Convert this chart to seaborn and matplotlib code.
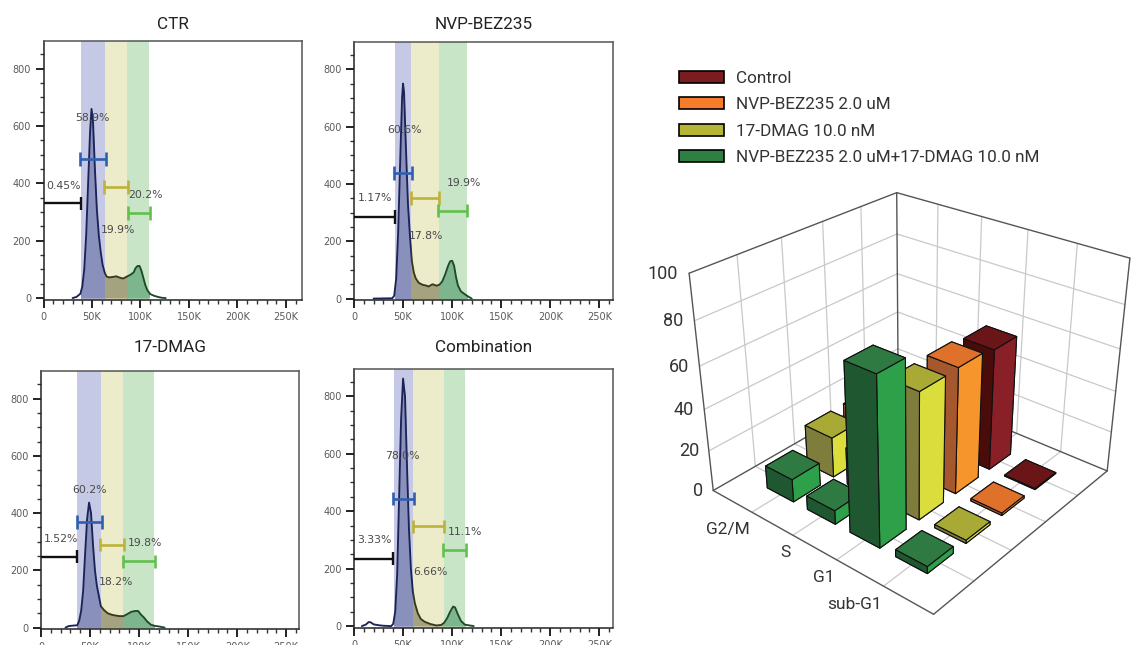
import matplotlib
matplotlib.use("Agg")
import matplotlib.pyplot as plt
from matplotlib.patches import Patch, Rectangle
from matplotlib.ticker import MultipleLocator, FuncFormatter
import seaborn as sns
import numpy as np

sns.set_style("white")
W, H = 1133, 645
NARROW = ["Roboto", "DejaVu Sans"]

# ---------- histogram data (x in thousands, y counts) ----------
ctr_x = [30,34,38,40,42,44,46,48,49.5,51,53,55,57,59,61,63,65,68,72,75,78,82,86,90,93,95,97,99,101,103,105,107,110,114,118,122,126]
ctr_y = [0,4,15,40,100,220,400,580,660,620,450,310,220,160,115,90,75,72,74,76,72,68,75,82,90,105,112,112,95,70,45,28,14,8,4,1,0]
nvp_x = [20,39,41,43,45,47,49,50,51,53,55,57,59,61,63,66,70,74,76,80,84,87,90,93,96,98,100,102,104,106,109,113,116,120]
nvp_y = [0,1,10,70,230,470,700,750,720,520,330,220,130,90,70,55,48,45,42,50,45,48,60,85,115,130,132,115,75,45,25,15,8,0]
dmag_x = [25,28,33,37,39,41,43,45,47,49,51,53,55,57,59,61,64,68,72,76,80,84,88,92,96,99,102,105,108,112,116,120,126]
dmag_y = [0,5,7,8,25,60,130,260,380,437,400,290,200,145,110,75,62,50,45,42,40,40,47,55,58,58,45,35,22,10,6,4,0]
comb_x = [8,12,15,17,20,25,30,38,40,42,44,46,48,50,52,54,56,58,60,62,65,68,72,78,84,89,92,95,98,101,103,106,109,113,118,122]
comb_y = [0,5,14,13,6,3,1,0,8,50,180,450,720,862,800,560,340,200,120,80,45,25,15,7,2,4,12,28,50,68,65,40,18,5,2,0]

panel_titles = ["CTR", "NVP-BEZ235", "17-DMAG", "Combination"]
title_pads = [8.7, 8.7, 13.8, 11.6]
span_edges = [[39,63,86.5,109],[41.8,58,86.4,114.7],[37,61,84,115],[40.5,60,91.5,113.6]]
gate_blue = [(38,64,486),(41,59,437),(37,62,370),(40,61,444)]
gate_yellow = [(62,87,387),(58,87,351),(60,85,290),(60,92,347)]
gate_green = [(87,110,297),(86,115,307),(84,116,231),(91,114,264)]
gate_black = [(39,330),(42,285),(37,248),(40,235)]
pct_labels = [
    [("58.9%",50,630),("0.45%",20.6,390),("20.2%",105,359),("19.9%",77,236)],
    [("60.6%",51,587),("1.17%",21,351),("19.9%",112,403),("17.8%",73.5,220)],
    [("60.2%",49,480),("1.52%",20.5,311),("19.8%",106,294),("18.2%",76,158)],
    [("78.0%",49,593),("3.33%",21,299),("11.1%",113,328),("6.66%",78,189)],
]
curves = [(ctr_x,ctr_y),(nvp_x,nvp_y),(dmag_x,dmag_y),(comb_x,comb_y)]

# ---------- bar chart data ----------
phases = ["sub-G1", "G1", "S", "G2/M"]
treatments = ["NVP-BEZ235 2.0 uM+17-DMAG 10.0 nM", "17-DMAG 10.0 nM", "NVP-BEZ235 2.0 uM", "Control"]
combo_vals = [3.33, 78.0, 6.66, 11.1]
dmag_vals = [1.52, 60.2, 18.2, 19.8]
nvp_vals = [1.17, 60.6, 17.8, 19.9]
ctrl_vals = [0.45, 58.9, 19.9, 20.2]
bar_vals = [combo_vals, dmag_vals, nvp_vals, ctrl_vals]
z_ticks = [0, 20, 40, 60, 80, 100]

# top, left, right faces
face_cols = [("#2e7a42", "#1e5730", "#2fa04a"),
             ("#a9a935", "#7f7d3c", "#dbdd3c"),
             ("#e0712a", "#a5572e", "#f6952b"),
             ("#6a1518", "#4a0b0b", "#8a2027")]
legend_labels = ["Control", "NVP-BEZ235 2.0 uM", "17-DMAG 10.0 nM", "NVP-BEZ235 2.0 uM+17-DMAG 10.0 nM"]
legend_cols = ["#7a1c20", "#f47c2b", "#b5b535", "#2e7f42"]

fig = plt.figure(figsize=(W/100, H/100), dpi=100, facecolor="white")

def rect(l, t, r, b):
    return [l/W, 1-b/H, (r-l)/W, (b-t)/H]

# pixel frame of each panel: left, top, right, bottom, x-limit
frames = [(43.5,41,302,299.5,266.5),(354,41.5,613,300,264),(41,371,299,629,263),(354,368.5,613,627.5,264)]
fills = ["#8a90bc", "#a5a37f", "#7db58d"]
spans = ["#c5c9e5", "#ecebca", "#c8e5c8"]
lines = ["#1b2458", "#38381f", "#1f4a2a"]
for i, (l, t, r, b, xm) in enumerate(frames):
    ax = fig.add_axes(rect(l, t, r, b), zorder=2)
    ax.set_xlim(0, xm)
    ax.set_ylim(-5, 897)
    e = span_edges[i]
    x, y = curves[i]
    x = np.array(x, float); y = np.array(y, float)
    for k in range(3):
        ax.axvspan(e[k], e[k+1], color=spans[k], lw=0, zorder=1)
        clip = Rectangle((e[k], -5), e[k+1]-e[k], 910, transform=ax.transData)
        poly = ax.fill_between(x, y, color=fills[k], lw=0, zorder=2)
        poly.set_clip_path(clip)
    bounds = [(0, e[1]), (e[1], e[2]), (e[2], 300)]
    for k, (a, c) in enumerate(bounds):
        n0 = len(ax.lines)
        sns.lineplot(x=x, y=y, ax=ax, color=lines[k], lw=1.35, sort=False, errorbar=None, zorder=3)
        ax.lines[n0].set_clip_path(Rectangle((a, -5), c-a, 910, transform=ax.transData))
    ax.set_xlabel(""); ax.set_ylabel("")
    for (a, c, yy), col in zip([gate_blue[i], gate_yellow[i], gate_green[i]], ["#2f5fae", "#bdb23a", "#62c04d"]):
        ax.plot([a, c], [yy, yy], color=col, lw=1.9, zorder=5, solid_capstyle="butt")
        for v in (a, c):
            ax.plot([v, v], [yy-24, yy+24], color=col, lw=1.9, zorder=5, solid_capstyle="butt")
    a, yy = gate_black[i]
    ax.plot([0, a], [yy, yy], color="#111111", lw=1.7, zorder=5, solid_capstyle="butt")
    ax.plot([a, a], [yy-24, yy+24], color="#111111", lw=1.7, zorder=5, solid_capstyle="butt")
    for s, px, py in pct_labels[i]:
        ax.text(px, py, s, ha="center", va="center", fontsize=7.8, color="#4a4a4a", zorder=6)
    ax.set_xticks([0, 50, 100, 150, 200, 250])
    ax.xaxis.set_major_formatter(FuncFormatter(lambda v, p: "0" if v == 0 else f"{int(v)}K"))
    ax.set_yticks([0, 200, 400, 600, 800])
    ax.xaxis.set_minor_locator(MultipleLocator(10))
    ax.yaxis.set_minor_locator(MultipleLocator(50))
    ax.tick_params(axis="both", which="major", length=6, width=1.4, color="#222222",
                   labelsize=7, labelcolor="#5a5a5a", pad=3, bottom=True, left=True)
    ax.tick_params(axis="both", which="minor", length=3, width=1.0, color="#333333", bottom=True, left=True)
    for sp in ax.spines.values():
        sp.set_color("#555555"); sp.set_linewidth(1.1); sp.set_visible(True)
    ax.spines["left"].set_color("#222222"); ax.spines["bottom"].set_color("#222222")
    ax.set_title(panel_titles[i], family=NARROW, fontsize=12.3, color="#222222", pad=title_pads[i])

# ---------- 3D bars ----------
S = 700.0
cx, cy = 913.0, 398.0
left = cx - 0.5135*S
top = cy - 0.5135*S
ax3 = fig.add_axes(rect(left, top, left+S, top+S), projection="3d", zorder=1,
                   computed_zorder=False)
ax3.set_facecolor("none")
ax3.set_proj_type("persp", focal_length=0.28)
ax3.view_init(elev=29, azim=-140)
ax3.set_box_aspect((1, 1, 0.83), zoom=470.0/S)
ax3.set_xlim(0, 5, view_margin=0)
ax3.set_ylim(0, 5, view_margin=0)
ax3.set_zlim(0, 100, view_margin=0)
ax3.set_axis_off()

g = dict(color="#c9c9c9", lw=0.9, zorder=1)
d = dict(color="#555555", lw=1.0, zorder=2)
for v in range(1, 5):
    ax3.plot([v, v], [0, 5], [0, 0], **g)
    ax3.plot([0, 5], [v, v], [0, 0], **g)
    ax3.plot([v, v], [5, 5], [0, 100], **g)
    ax3.plot([5, 5], [v, v], [0, 100], **g)
for z in z_ticks[1:-1]:
    ax3.plot([0, 5], [5, 5], [z, z], **g)
    ax3.plot([5, 5], [0, 5], [z, z], **g)
for seg in [([0,5],[5,5],[100,100]), ([5,5],[5,0],[100,100]), ([5,5],[5,5],[0,100]),
            ([0,0],[5,5],[0,100]), ([5,5],[0,0],[0,100]),
            ([0,0],[5,0],[0,0]), ([0,5],[0,0],[0,0]), ([0,5],[5,5],[0,0]), ([5,5],[5,0],[0,0])]:
    ax3.plot(*seg, **d)

bw = 0.66
order = sorted([(sx, cy_) for sx in range(4) for cy_ in range(4)], key=lambda t: -(t[0]+t[1]))
for zo, (si, ci) in enumerate(order):
    top_c, left_c, right_c = face_cols[si]
    cols = [top_c, top_c, right_c, right_c, left_c, left_c]
    ax3.bar3d(si+1-bw/2, ci+1-bw/2, 0, bw, bw, bar_vals[si][ci], color=cols, shade=False,
              edgecolor="#111111", linewidth=0.8, zorder=10+zo)

for z in z_ticks:
    ax3.text(-0.12, 5.12, z, str(z), ha="right", va="center", family=NARROW, fontsize=13, color="#333333", zorder=50)
for c, name in enumerate(phases):
    ax3.text(-0.1, c+1-0.05, -3, name, ha="right", va="top", family=NARROW, fontsize=12.5, color="#333333", zorder=50)

# ---------- legend ----------
handles = [Patch(facecolor=c, edgecolor="black", linewidth=1.2) for c in legend_cols]
fig.legend(handles, legend_labels, loc="upper left", bbox_to_anchor=(665/W, 1-57/H), frameon=False,
           prop={"family": NARROW, "size": 12.3}, labelcolor="#333333",
           handlelength=2.65, handleheight=0.7, handletextpad=0.7, labelspacing=0.67, borderpad=0.3)

fig.savefig("out.png", dpi=100)
